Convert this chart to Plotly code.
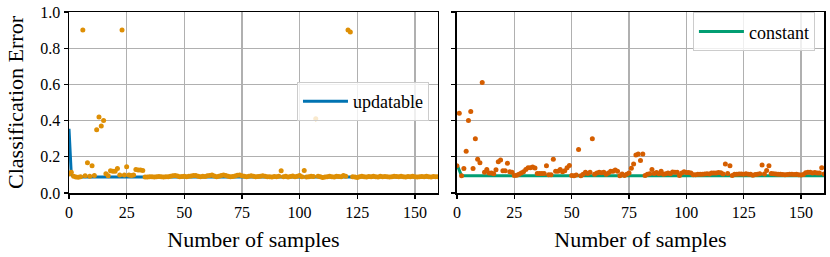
import plotly.graph_objects as go

# ---------------- data ----------------
samples = list(range(161))

updatable_line = [
    0.355, 0.100, 0.092, 0.090, 0.089, 0.089, 0.089, 0.089, 0.089, 0.089,
    0.089, 0.089, 0.089, 0.089, 0.089, 0.089, 0.089, 0.089, 0.089, 0.089,
    0.089, 0.089, 0.089, 0.089, 0.089, 0.089, 0.089, 0.089, 0.089, 0.089,
    0.089, 0.089, 0.089, 0.088, 0.088, 0.088, 0.088, 0.088, 0.088, 0.088,
    0.088, 0.088, 0.088, 0.088, 0.088, 0.088, 0.089, 0.089, 0.088, 0.088,
    0.088, 0.088, 0.088, 0.088, 0.088, 0.089, 0.088, 0.088, 0.088, 0.088,
    0.088, 0.088, 0.089, 0.088, 0.088, 0.088, 0.088, 0.088, 0.088, 0.088,
    0.088, 0.088, 0.088, 0.088, 0.088, 0.088, 0.088, 0.088, 0.088, 0.088,
    0.088, 0.088, 0.088, 0.088, 0.088, 0.088, 0.088, 0.088, 0.088, 0.088,
    0.088, 0.088, 0.088, 0.088, 0.088, 0.088, 0.088, 0.088, 0.088, 0.088,
    0.088, 0.088, 0.088, 0.088, 0.088, 0.088, 0.088, 0.088, 0.088, 0.088,
    0.088, 0.088, 0.088, 0.088, 0.088, 0.088, 0.088, 0.088, 0.088, 0.088,
    0.088, 0.088, 0.088, 0.088, 0.088, 0.088, 0.088, 0.088, 0.088, 0.088,
    0.088, 0.088, 0.088, 0.088, 0.088, 0.088, 0.088, 0.088, 0.088, 0.088,
    0.088, 0.088, 0.088, 0.088, 0.088, 0.088, 0.088, 0.088, 0.088, 0.088,
    0.088, 0.088, 0.088, 0.088, 0.088, 0.088, 0.088, 0.088, 0.088, 0.088,
    0.088,
]

updatable_points = [
    0.105, 0.114, 0.092, 0.088, 0.087, 0.090, 0.900, 0.095, 0.167, 0.092,
    0.151, 0.097, 0.350, 0.420, 0.370, 0.400, 0.107, 0.095, 0.123, 0.120,
    0.120, 0.136, 0.100, 0.900, 0.100, 0.145, 0.100, 0.097, 0.100, 0.130,
    0.127, 0.127, 0.125, 0.088,
    0.088, 0.090, 0.090, 0.089, 0.090, 0.091, 0.090, 0.089, 0.090, 0.090,
    0.092, 0.095, 0.097, 0.094, 0.090, 0.091, 0.093, 0.090, 0.092, 0.094,
    0.097, 0.096, 0.092, 0.090, 0.093, 0.091, 0.095, 0.097, 0.099, 0.094,
    0.090, 0.092, 0.096, 0.100, 0.097, 0.093, 0.090, 0.091, 0.094, 0.098,
    0.100, 0.095, 0.092, 0.090, 0.093, 0.095, 0.092, 0.090, 0.091, 0.093,
    0.095, 0.092, 0.090, 0.090, 0.089, 0.091, 0.090, 0.093, 0.123, 0.090,
    0.092, 0.089, 0.091, 0.094, 0.090, 0.092, 0.097, 0.090, 0.125, 0.089,
    0.090, 0.092, 0.091, 0.410, 0.093, 0.090, 0.086, 0.088, 0.090, 0.092,
    0.090, 0.089, 0.092, 0.091, 0.090, 0.097, 0.093, 0.900, 0.890, 0.090,
    0.088, 0.086, 0.090, 0.092, 0.090, 0.089, 0.091, 0.090, 0.092, 0.090,
    0.089, 0.093, 0.090, 0.091, 0.090, 0.088, 0.090, 0.092, 0.091, 0.090,
    0.093, 0.090, 0.089, 0.091, 0.090, 0.092, 0.090, 0.089, 0.090, 0.091,
    0.090, 0.092, 0.090, 0.089, 0.091, 0.090, 0.090,
]

constant_line = [
    0.157, 0.125, 0.095, 0.095, 0.095, 0.095, 0.095, 0.095, 0.095, 0.095,
    0.095, 0.095, 0.095, 0.095, 0.095, 0.095, 0.095, 0.095, 0.095, 0.095,
    0.095, 0.095, 0.095, 0.095, 0.095, 0.095, 0.095, 0.095, 0.095, 0.095,
    0.095, 0.095, 0.095, 0.095, 0.095, 0.095, 0.095, 0.095, 0.095, 0.095,
    0.095, 0.095, 0.095, 0.095, 0.095, 0.095, 0.095, 0.095, 0.095, 0.095,
    0.095, 0.095, 0.095, 0.095, 0.095, 0.095, 0.095, 0.095, 0.095, 0.095,
    0.095, 0.095, 0.095, 0.095, 0.095, 0.095, 0.095, 0.095, 0.095, 0.095,
    0.095, 0.095, 0.095, 0.095, 0.095, 0.095, 0.095, 0.095, 0.095, 0.095,
    0.095, 0.095, 0.095, 0.095, 0.095, 0.095, 0.095, 0.095, 0.095, 0.095,
    0.095, 0.095, 0.095, 0.095, 0.095, 0.095, 0.095, 0.095, 0.095, 0.095,
    0.095, 0.095, 0.095, 0.095, 0.095, 0.095, 0.095, 0.095, 0.095, 0.095,
    0.095, 0.095, 0.095, 0.095, 0.095, 0.095, 0.095, 0.095, 0.095, 0.095,
    0.095, 0.095, 0.095, 0.095, 0.095, 0.095, 0.095, 0.095, 0.095, 0.095,
    0.095, 0.095, 0.095, 0.095, 0.095, 0.095, 0.095, 0.095, 0.095, 0.095,
    0.095, 0.095, 0.095, 0.095, 0.095, 0.095, 0.095, 0.095, 0.095, 0.095,
    0.095, 0.095, 0.095, 0.095, 0.095, 0.095, 0.095, 0.095, 0.095, 0.095,
    0.095,
]

constant_points = [
    0.150, 0.440, 0.095, 0.136, 0.230, 0.400, 0.450, 0.136, 0.300, 0.186,
    0.167, 0.610, 0.114, 0.130, 0.110, 0.110, 0.107, 0.129, 0.173, 0.182,
    0.123, 0.123, 0.164, 0.117, 0.114, 0.097, 0.098, 0.103, 0.110, 0.117,
    0.130, 0.140, 0.140, 0.143, 0.138, 0.108, 0.108, 0.108, 0.108, 0.150,
    0.101, 0.101, 0.186, 0.120, 0.120, 0.130, 0.117, 0.123, 0.140, 0.152,
    0.096, 0.095, 0.099, 0.240, 0.095, 0.103, 0.114, 0.108, 0.114, 0.300,
    0.103, 0.110, 0.114, 0.112, 0.114, 0.103, 0.110, 0.120, 0.120, 0.127,
    0.120, 0.095, 0.105, 0.097, 0.104, 0.110, 0.137, 0.160, 0.210, 0.215,
    0.180, 0.215, 0.097, 0.103, 0.106, 0.130, 0.108, 0.113, 0.106, 0.120,
    0.104, 0.106, 0.110, 0.106, 0.116, 0.114, 0.114, 0.097, 0.110, 0.118,
    0.113, 0.113, 0.110, 0.101, 0.101, 0.103, 0.103, 0.103, 0.105, 0.106,
    0.105, 0.110, 0.110, 0.110, 0.113, 0.112, 0.105, 0.160, 0.108, 0.150,
    0.097, 0.104, 0.104, 0.105, 0.105, 0.104, 0.106, 0.104, 0.104, 0.098,
    0.102, 0.104, 0.106, 0.155, 0.105, 0.125, 0.151, 0.108, 0.107, 0.105,
    0.104, 0.103, 0.102, 0.101, 0.102, 0.103, 0.104, 0.102, 0.103, 0.101,
    0.099, 0.102, 0.112, 0.114, 0.114, 0.110, 0.113, 0.110, 0.110, 0.140,
    0.105,
]

x_ticks = [0, 25, 50, 75, 100, 125, 150]
y_ticks = [0.0, 0.2, 0.4, 0.6, 0.8, 1.0]
y_tick_labels = ["0.0", "0.2", "0.4", "0.6", "0.8", "1.0"]

# ---------------- style ----------------
FONT = "Liberation Serif, Times New Roman, serif"
BLUE = "#0173B2"
ORANGE = "#DE8F05"
GREEN = "#029E73"
VERMILION = "#D55E00"
GRID = "#b0b0b0"

fig = go.Figure()

fig.add_trace(go.Scatter(x=samples, y=updatable_line, mode="lines",
                         line=dict(color=BLUE, width=3), name="updatable",
                         xaxis="x", yaxis="y", legend="legend"))
fig.add_trace(go.Scatter(x=samples, y=updatable_points, mode="markers",
                         marker=dict(color=ORANGE, size=5), showlegend=False,
                         xaxis="x", yaxis="y"))
fig.add_trace(go.Scatter(x=samples, y=constant_line, mode="lines",
                         line=dict(color=GREEN, width=3), name="constant",
                         xaxis="x2", yaxis="y2", legend="legend2"))
fig.add_trace(go.Scatter(x=samples, y=constant_points, mode="markers",
                         marker=dict(color=VERMILION, size=5), showlegend=False,
                         xaxis="x2", yaxis="y2"))

axis_common = dict(
    showline=True, linecolor="black", linewidth=1.5, mirror=True,
    showgrid=True, gridcolor=GRID, gridwidth=1.3,
    ticks="outside", ticklen=4, tickwidth=1.3, tickcolor="black",
    zeroline=False, automargin=False, ticklabeloverflow="allow",
    tickfont=dict(family=FONT, size=16, color="black"),
)

xcommon = dict(axis_common, range=[0, 160], tickvals=x_ticks,
               title=dict(text="Number of samples",
                          font=dict(family=FONT, size=22, color="black"),
                          standoff=12))
ycommon = dict(axis_common, range=[0, 1], tickvals=y_ticks, ticktext=y_tick_labels)

fig.update_layout(
    width=830, height=257,
    margin=dict(l=69, r=6, t=12, b=64, autoexpand=False),
    paper_bgcolor="white", plot_bgcolor="white",
    font=dict(family=FONT, color="black"),
    xaxis=dict(xcommon, domain=[0, 0.4887], anchor="y"),
    yaxis=dict(ycommon, domain=[0, 1], anchor="x",
               title=dict(text="Classification Error",
                          font=dict(family=FONT, size=22, color="black"),
                          standoff=10)),
    xaxis2=dict(xcommon, domain=[0.5139, 1], anchor="y2"),
    yaxis2=dict(ycommon, domain=[0, 1], anchor="x2", showticklabels=False),
    legend=dict(x=0.4768, y=0.505, xanchor="right", yanchor="middle",
                bgcolor="rgba(255,255,255,0.8)", bordercolor="#cccccc",
                borderwidth=1, itemwidth=45,
                font=dict(family=FONT, size=18, color="black")),
    legend2=dict(x=0.988, y=0.89, xanchor="right", yanchor="middle",
                 bgcolor="rgba(255,255,255,0.8)", bordercolor="#cccccc",
                 borderwidth=1, itemwidth=45,
                 font=dict(family=FONT, size=18, color="black")),
    showlegend=True,
)

fig.write_html("out.html",
               config={"displayModeBar": False, "staticPlot": True},
               post_script="document.body.style.margin='0px';"
                           "document.body.style.overflow='hidden';")
